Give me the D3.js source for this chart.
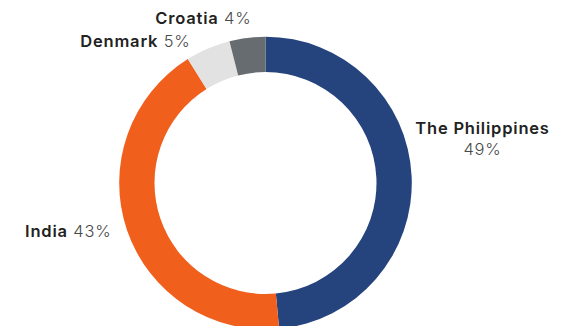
<!DOCTYPE html>
<html lang='en'>

<head>
   <meta charset='UTF-8'>
   <title>Donut chart</title>
   <script src='https://d3js.org/d3.v7.min.js'></script>
   <style>
      body {
         margin: 0;
         background: #fff;
      }
   </style>
</head>

<body>
   <div id='svg-container'></div>
   <script>

      const countries = ['The Philippines', 'India', 'Denmark', 'Croatia'];
      const shares = [49, 43, 5, 4];
      const colours = ['#25447d', '#f15f1d', '#e1e2e1', '#676c70'];

      const width = 571;
      const height = 326;
      const center = { x: 265.5, y: 183 };
      const outerRadius = 146.3;
      const innerRadius = 111;

      // where each label sits, relative to the donut centre
      const labelLayout = [
         { dx: 217, dy: -49, anchor: 'middle', twoLines: true },
         { dx: -154, dy: 54, anchor: 'end' },
         { dx: -75, dy: -136, anchor: 'end' },
         { dx: -14, dy: -159, anchor: 'end' }
      ];

      const svg = d3.select('#svg-container').append('svg')
         .attr('width', width)
         .attr('height', height);

      const g = svg.append('g').attr('transform', `translate(${center.x}, ${center.y})`);

      const pie = d3.pie().sort(null).value(d => d);
      const arc = d3.arc().innerRadius(innerRadius).outerRadius(outerRadius);
      const arcs = pie(shares);

      g.selectAll('path.slice')
         .data(arcs)
         .join('path')
         .attr('class', 'slice')
         .attr('fill', (d, i) => colours[i])
         .attr('d', arc);

      const labels = g.selectAll('text.label')
         .data(arcs)
         .join('text')
         .attr('class', 'label')
         .attr('x', (d, i) => labelLayout[i].dx)
         .attr('y', (d, i) => labelLayout[i].dy)
         .attr('text-anchor', (d, i) => labelLayout[i].anchor)
         .style('font-family', 'Inter, sans-serif')
         .style('font-size', '16.5px')
         .style('letter-spacing', '0.8px');

      labels.append('tspan')
         .style('font-weight', 600)
         .attr('fill', '#222')
         .text((d, i) => countries[i]);

      labels.append('tspan')
         .style('font-weight', 300)
         .attr('fill', '#4a4a4a')
         .attr('x', (d, i) => labelLayout[i].twoLines ? labelLayout[i].dx : null)
         .attr('dy', (d, i) => labelLayout[i].twoLines ? 21 : null)
         .text((d, i) => (labelLayout[i].twoLines ? '' : ' ') + shares[i] + '%');

   </script>
</body>

</html>
